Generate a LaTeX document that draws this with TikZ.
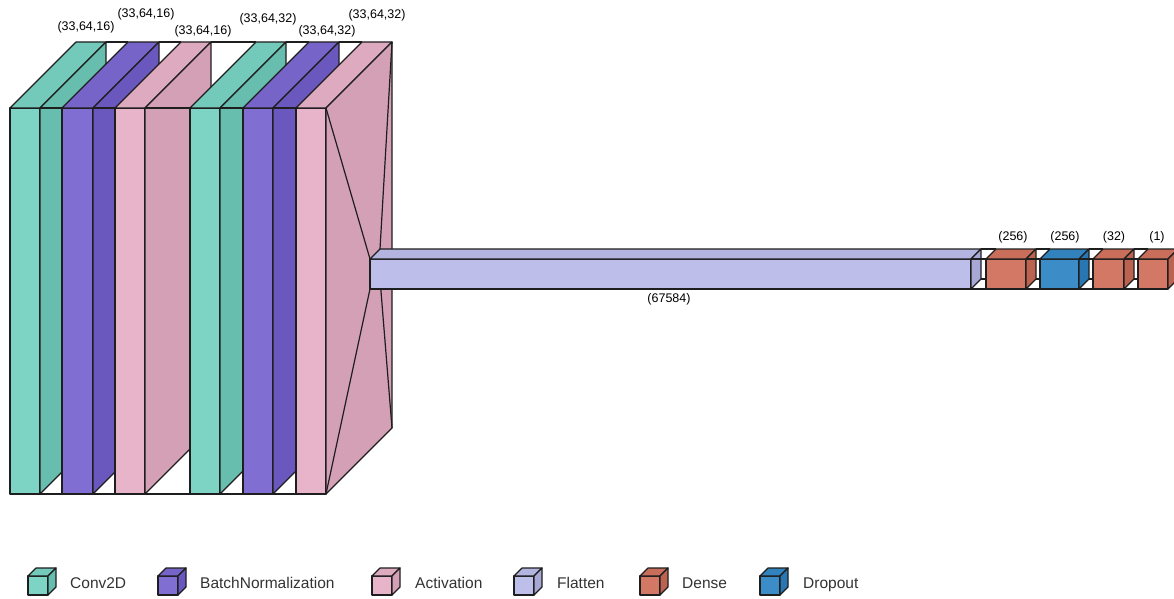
\documentclass[tikz,border=0pt]{standalone}
\usepackage{fontspec}
\setmainfont{Liberation Sans}
\definecolor{cconv}{HTML}{7DD3C4}
\definecolor{cconvT}{HTML}{73C9BA}
\definecolor{cconvS}{HTML}{67BEAF}
\definecolor{cbn}{HTML}{806ED2}
\definecolor{cbnT}{HTML}{7664C8}
\definecolor{cbnS}{HTML}{6A58BE}
\definecolor{cact}{HTML}{E8B4CA}
\definecolor{cactT}{HTML}{DEAAC0}
\definecolor{cactS}{HTML}{D4A0B6}
\definecolor{cflat}{HTML}{BEBEEB}
\definecolor{cflatT}{HTML}{B4B4E1}
\definecolor{cflatS}{HTML}{A8A8D7}
\definecolor{cdense}{HTML}{D27864}
\definecolor{cdenseT}{HTML}{C86E5A}
\definecolor{cdenseS}{HTML}{BC6250}
\definecolor{cdrop}{HTML}{3C8CC8}
\definecolor{cdropT}{HTML}{3282BE}
\definecolor{cdropS}{HTML}{2876B2}
\definecolor{cline}{HTML}{1E1E1E}
\tikzset{
  vkline/.style={draw=cline,line width=1.2pt,line join=round},
  funnelline/.style={draw=cline,line width=1.2pt},
  shapelabel/.style={font=\fontsize{12.5}{14}\selectfont,text=black,inner sep=0pt},
  legendlabel/.style={font=\fontsize{15.5}{18}\selectfont,text=black!80,inner sep=0pt,anchor=base west},
}
% box: x1, y1, x2, y2, depth, colour (front; T = top, S = side)
\newcommand\vkbox[6]{%
  \filldraw[vkline,fill=#6] (#1,#2) rectangle (#3,#4);
  \filldraw[vkline,fill=#6T] (#1,#2) -- (#1+#5,#2-#5) -- (#3+#5,#2-#5) -- (#3,#2) -- cycle;
  \filldraw[vkline,fill=#6S] (#3,#2) -- (#3+#5,#2-#5) -- (#3+#5,#4-#5) -- (#3,#4) -- cycle;
}
% funnel: prev x2, prev y1, prev y2, prev d, next x1, next y1, next y2, next d
\newcommand\vkfunnel[8]{%
  \draw[funnelline] (#1+#4,#2-#4) -- (#5+#8,#6-#8);
  \draw[funnelline] (#1+#4,#3-#4) -- (#5+#8,#7-#8);
  \draw[funnelline] (#1,#3) -- (#5,#7);
  \draw[funnelline] (#1,#2) -- (#5,#6);
}
\begin{document}
\begin{tikzpicture}[x=1pt,y=-1pt]
\useasboundingbox (0,0) rectangle (1174,599);
\clip (0,0) rectangle (1174,599);
\fill[white] (0,0) rectangle (1174,599);
% convolutional stack
\vkbox{10}{108}{40}{494}{66}{cconv}
\vkfunnel{40}{108}{494}{66}{62}{108}{494}{66}
\vkbox{62}{108}{93}{494}{66}{cbn}
\vkfunnel{93}{108}{494}{66}{115}{108}{494}{66}
\vkbox{115}{108}{145}{494}{66}{cact}
\vkfunnel{145}{108}{494}{66}{190}{108}{494}{66}
\vkbox{190}{108}{220}{494}{66}{cconv}
\vkfunnel{220}{108}{494}{66}{243}{108}{494}{66}
\vkbox{243}{108}{273}{494}{66}{cbn}
\vkfunnel{273}{108}{494}{66}{296}{108}{494}{66}
\vkbox{296}{108}{326}{494}{66}{cact}
\vkfunnel{326}{108}{494}{66}{370}{259}{289}{10}
% flatten and dense part
\vkbox{370}{259}{971}{289}{10}{cflat}
\vkfunnel{971}{259}{289}{10}{986}{259}{289}{10}
\vkbox{986}{259}{1026}{289}{10}{cdense}
\vkfunnel{1026}{259}{289}{10}{1040}{259}{289}{10}
\vkbox{1040}{259}{1079}{289}{10}{cdrop}
\vkfunnel{1079}{259}{289}{10}{1093}{259}{289}{10}
\vkbox{1093}{259}{1124}{289}{10}{cdense}
\vkfunnel{1124}{259}{289}{10}{1138}{259}{289}{10}
\vkbox{1138}{259}{1168}{289}{10}{cdense}
% shape labels
\node[shapelabel] (l1) at (86,27) {(33,64,16)};
\node[shapelabel] (l2) at (146,14) {(33,64,16)};
\node[shapelabel] (l3) at (203,31) {(33,64,16)};
\node[shapelabel] (l4) at (268,19) {(33,64,32)};
\node[shapelabel] (l5) at (327,31) {(33,64,32)};
\node[shapelabel] (l6) at (377,15) {(33,64,32)};
\node[shapelabel] (l7) at (669,299) {(67584)};
\node[shapelabel] (l8) at (1013,237) {(256)};
\node[shapelabel] (l9) at (1065,237) {(256)};
\node[shapelabel] (l10) at (1114,237) {(32)};
\node[shapelabel] (l11) at (1157,237) {(1)};
% legend
\vkbox{28}{576}{48}{595}{8}{cconv}
\node[legendlabel] (g1) at (70,588.5) {Conv2D};
\vkbox{158}{576}{178}{595}{8}{cbn}
\node[legendlabel] (g2) at (200,588.5) {BatchNormalization};
\vkbox{372}{576}{392}{595}{8}{cact}
\node[legendlabel] (g3) at (415,588.5) {Activation};
\vkbox{514}{576}{534}{595}{8}{cflat}
\node[legendlabel] (g4) at (557,588.5) {Flatten};
\vkbox{640}{576}{660}{595}{8}{cdense}
\node[legendlabel] (g5) at (682,588.5) {Dense};
\vkbox{760}{576}{780}{595}{8}{cdrop}
\node[legendlabel] (g6) at (803,588.5) {Dropout};
\end{tikzpicture}
\end{document}
